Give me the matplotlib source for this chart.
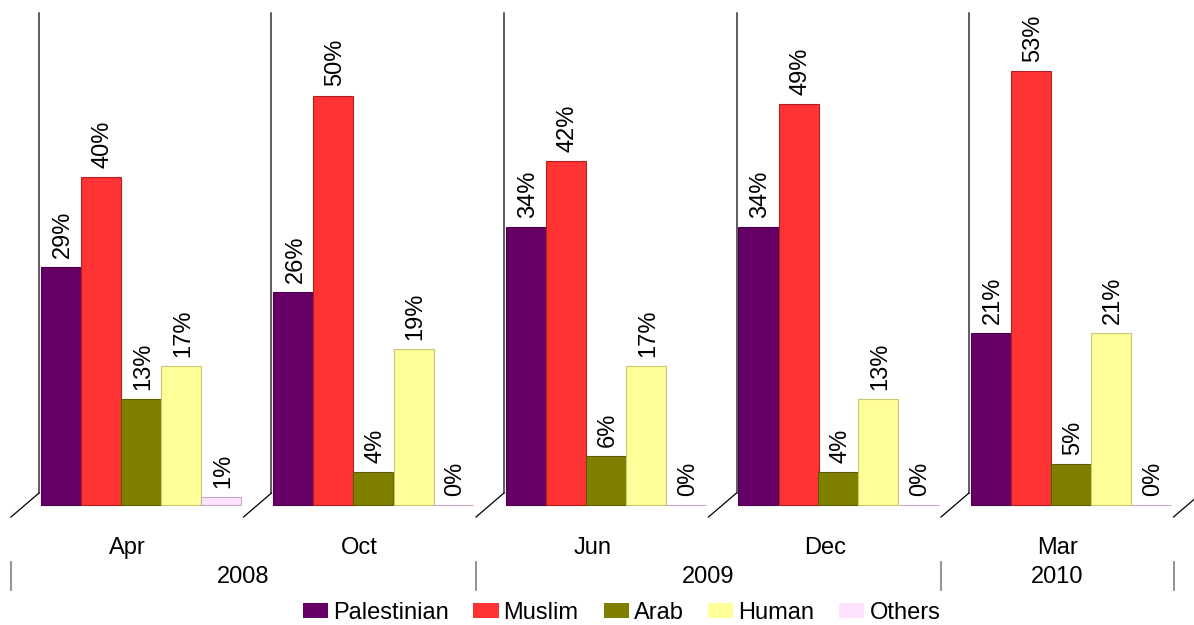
import numpy as np
import matplotlib
matplotlib.use("Agg")
import matplotlib.pyplot as plt
from matplotlib.patches import Patch

plt.rcParams['font.family'] = ['Liberation Sans', 'DejaVu Sans']

# data
months = ["Apr", "Oct", "Jun", "Dec", "Mar"]
years = ["2008", "2009", "2010"]
year_bounds = [0, 2, 4, 5]  # group index where each year starts (plus end)
series = ["Palestinian", "Muslim", "Arab", "Human", "Others"]
palestinian = [29, 26, 34, 34, 21]
muslim = [40, 50, 42, 49, 53]
arab = [13, 4, 6, 4, 5]
human = [17, 19, 17, 13, 21]
others = [1, 0, 0, 0, 0]
values = [palestinian, muslim, arab, human, others]

colors = ["#660066", "#FF3333", "#808000", "#FFFF99", "#FDE3FD"]
edges = ["#4a004a", "#b02020", "#5c5c00", "#c8c870", "#c9a9c9"]

W, H = 1194, 625
fig = plt.figure(figsize=(W / 100, H / 100), dpi=100)
ax = fig.add_axes([0, 0, 1, 1])

# pixel geometry of the plot (stride, baseline, scale)
stride = 232.5
x0_px = 141.0
base_px = 505.0
px_per_pct = 8.19
ax.set_xlim(-x0_px / stride, (W - x0_px) / stride)
ax.set_ylim(-(H - base_px) / px_per_pct, base_px / px_per_pct)
ax.axis("off")

bw = 40 / stride
n = len(series)
x = np.arange(len(months))
fs = 17

for j, (name, vals) in enumerate(zip(series, values)):
    pos = x + (j - (n - 1) / 2) * bw
    ax.bar(pos, vals, width=bw, color=colors[j], edgecolor=edges[j],
           linewidth=0.8, zorder=3)
    for px, v in zip(pos, vals):
        ax.text(px + 2 / stride, v + 9 / px_per_pct, f"{v}%", rotation=90,
                ha="center", va="bottom", fontsize=fs, zorder=4)

# side walls with the floor perspective
wall_dx = (x0_px - 39) / stride
depth_dx = 28 / stride
top_y = (base_px - 13) / px_per_pct
bot_y = (base_px - 493) / px_per_pct
floor_y = (base_px - 517) / px_per_pct
for i in range(len(months) + 1):
    xv = i - wall_dx
    ax.plot([xv, xv], [bot_y, top_y], color="#333333", lw=1.1, zorder=2)
    ax.plot([xv, xv - depth_dx], [bot_y, floor_y], color="black", lw=0.9, zorder=2)

# category labels
floor_left = x - wall_dx - depth_dx
cat_y = (base_px - 548) / px_per_pct
for i, m in enumerate(months):
    ax.text(floor_left[i] + 0.5, cat_y, m, ha="center", va="center", fontsize=fs)

# year labels and separators
yr_y = (base_px - 577) / px_per_pct
sep_top = (base_px - 562) / px_per_pct
sep_bot = (base_px - 590) / px_per_pct
for b in year_bounds:
    xs = b - wall_dx - depth_dx
    ax.plot([xs, xs], [sep_bot, sep_top], color="#808080", lw=1.2)
for k, yr in enumerate(years):
    xa = year_bounds[k] - wall_dx - depth_dx
    xb = year_bounds[k + 1] - wall_dx - depth_dx
    ax.text((xa + xb) / 2, yr_y, yr, ha="center", va="center", fontsize=fs)

handles = [Patch(facecolor=c, edgecolor="none") for c in colors]
fig.legend(handles, series, loc="center", bbox_to_anchor=(621.5 / W, 1 - 613 / H),
           ncol=5, frameon=False, fontsize=fs, handlelength=1.06, handleheight=0.6,
           handletextpad=0.21, columnspacing=1.06, borderpad=0)

fig.savefig("out.png", dpi=100)
